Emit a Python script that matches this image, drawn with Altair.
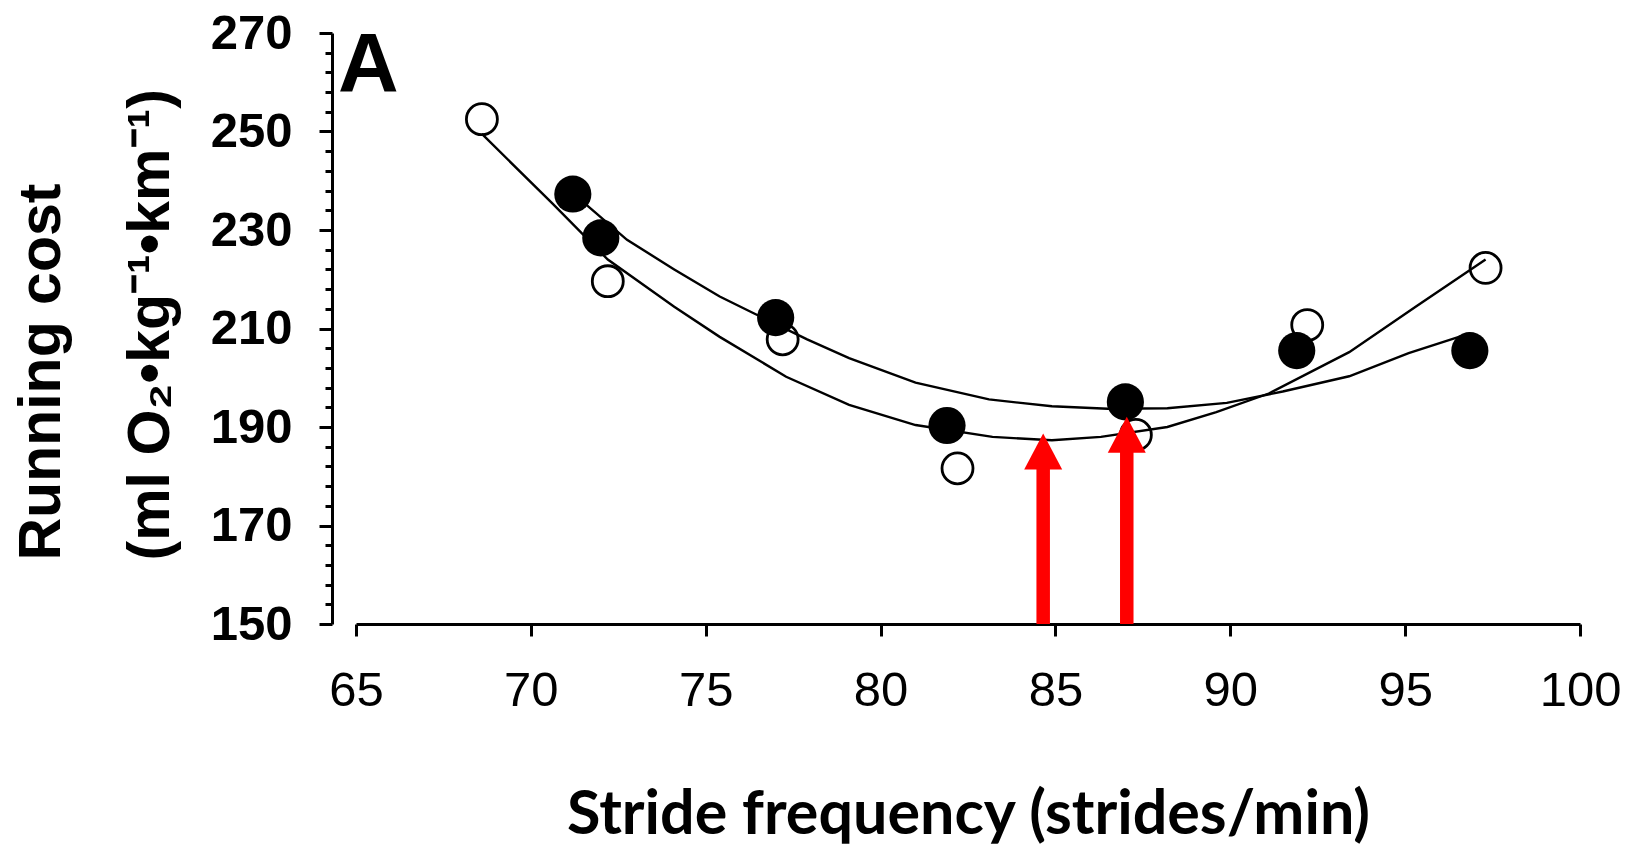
import altair as alt
import pandas as pd

# ---- data ----
open_x = [68.6, 72.2, 77.2, 82.2, 87.3, 92.2, 97.3]
open_y = [252.5, 219.6, 207.8, 181.6, 188.4, 210.7, 222.3]

filled_x = [71.2, 72.0, 77.0, 81.9, 87.0, 91.9, 96.85]
filled_y = [237.3, 228.4, 212.2, 190.3, 195.1, 205.5, 205.5]

fit_open_x = [68.6, 70.6, 72.2, 74.1, 75.4, 77.3, 79.1, 81.0, 83.2, 84.9, 86.3, 88.2, 89.6, 91.1, 93.4, 95.3, 97.3]
fit_open_y = [249.5, 235.5, 224.0, 214.4, 208.3, 200.2, 194.5, 190.4, 188.0, 187.3, 188.0, 190.0, 193.0, 196.8, 205.2, 214.4, 224.0]

fit_filled_x = [71.2, 72.75, 74.1, 75.4, 76.4, 77.9, 79.1, 81.0, 83.1, 84.9, 86.5, 88.2, 89.9, 91.5, 93.4, 95.1, 96.85]
fit_filled_y = [237.5, 228.0, 222.0, 216.5, 213.0, 207.8, 204.0, 199.0, 195.6, 194.2, 193.7, 193.8, 194.9, 197.2, 200.3, 205.0, 209.0]

arrow_x = [84.65, 87.04]
arrow_tip = [188.7, 192.1]

x_ticks = [65, 70, 75, 80, 85, 90, 95, 100]
y_ticks = [150, 170, 190, 210, 230, 250, 270]
y_minor = list(range(150, 271, 4))

# ---- tables ----
open_df = pd.DataFrame({"x": open_x, "y": open_y})
filled_df = pd.DataFrame({"x": filled_x, "y": filled_y})
fit_open_df = pd.DataFrame({"x": fit_open_x, "y": fit_open_y})
fit_filled_df = pd.DataFrame({"x": fit_filled_x, "y": fit_filled_y})
arrow_df = pd.DataFrame({"x": arrow_x, "tip": arrow_tip, "bottom": [150, 150]})

xs = alt.Scale(domain=[65, 100], nice=False, zero=False)
ys = alt.Scale(domain=[150, 270], nice=False, zero=False)

major_test = "indexof([" + ",".join(str(v) for v in y_ticks) + "], datum.value) >= 0"

x_axis = alt.Axis(
    values=x_ticks, orient="bottom", title="Stride frequency (strides/min)", grid=False,
    labelFont="Liberation Sans", labelFontSize=49, labelFontWeight="normal",
    labelPadding=30, tickSize=12, tickWidth=3, domainWidth=3,
    domainColor="black", tickColor="black", labelColor="black",
    titleFont="Lato", titleFontSize=61, titleFontWeight="bold",
    titlePadding=70, titleColor="black", labelFlush=False,
)
X = alt.X("x:Q", scale=xs, axis=x_axis)

y_axis = alt.Axis(
    values=y_minor, orient="left", offset=24, grid=False,
    labelExpr=major_test + " ? datum.label : ''",
    tickSize={"condition": {"test": major_test, "value": 13}, "value": 7},
    title=["Running cost", "(ml O\u2082\u2022kg\u207b\u00b9\u2022km\u207b\u00b9)"],
    labelFont="Liberation Sans", labelFontSize=49, labelFontWeight="bold",
    labelPadding=27, tickWidth=3, domainWidth=3,
    domainColor="black", tickColor="black", labelColor="black",
    titleFont="Liberation Sans", titleFontSize=59, titleFontWeight="bold",
    titleLineHeight=109, titlePadding=30, titleColor="black", labelFlush=False,
    titleAnchor="start", titleAlign="left", titleY=527,
)
Y = alt.Y("y:Q", scale=ys, axis=y_axis)

fit_open = alt.Chart(fit_open_df).mark_line(color="black", strokeWidth=2.4).encode(x=X, y=Y)
fit_filled = alt.Chart(fit_filled_df).mark_line(color="black", strokeWidth=2.4).encode(x=X, y=Y)
open_pts = alt.Chart(open_df).mark_point(
    shape="circle", filled=False, color="black", strokeWidth=2.8, size=960, opacity=1
).encode(x=X, y=Y)
filled_pts = alt.Chart(filled_df).mark_point(
    shape="circle", filled=True, color="black", size=1380, opacity=1
).encode(x=X, y=Y)
shaft = alt.Chart(arrow_df).transform_calculate(
    base="datum.tip - 7.0"
).mark_rule(color="#ff0000", strokeWidth=13.5, strokeCap="butt").encode(
    x=X, y=alt.Y("base:Q", scale=ys, axis=y_axis), y2="bottom:Q",
)
head = alt.Chart(arrow_df).mark_point(
    shape="M0,0L-1,1.9L1,1.9Z", filled=True, color="#ff0000", size=1444, opacity=1
).encode(x=X, y=alt.Y("tip:Q", scale=ys, axis=y_axis))
label = alt.Chart(pd.DataFrame({"t": ["A"]})).mark_text(
    font="Liberation Sans", fontSize=84, fontWeight="bold", color="black",
    align="left", baseline="alphabetic"
).encode(text="t:N", x=alt.value(-18), y=alt.value(59))

chart = alt.layer(
    fit_open, fit_filled, open_pts, filled_pts, shaft, head, label
).properties(
    width=1224, height=591, background="white",
    autosize=alt.AutoSizeParams(type="none"),
    padding={"left": 356, "top": 33, "right": 49, "bottom": 224},
).configure_view(stroke=None)

chart.save("out.html", embed_options={"renderer": "svg", "actions": False})
